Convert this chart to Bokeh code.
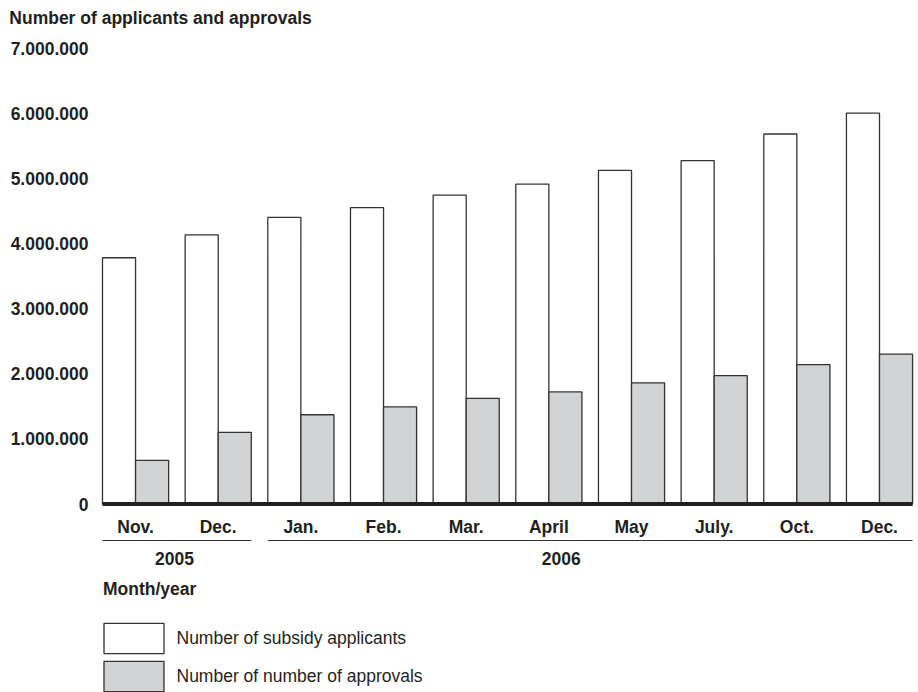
import numpy as np
from bokeh.plotting import figure
from bokeh.models import Range1d, FixedTicker, Legend, LegendItem, ColumnDataSource
from bokeh.transform import dodge
from bokeh.core.properties import value
from bokeh.embed import file_html
from bokeh.resources import INLINE

# ---------------- data ----------------
months = ["Nov.", "Dec.", "Jan.", "Feb.", "Mar.", "April", "May", "July.", "Oct.", "Dec."]
applicants = [3780000, 4130000, 4400000, 4550000, 4740000, 4910000, 5120000, 5270000, 5680000, 6000000]
approvals = [670000, 1100000, 1370000, 1490000, 1620000, 1720000, 1860000, 1970000, 2140000, 2300000]
years = ["2005", "2006"]
year_first = [0, 2]
year_last = [1, 9]
y_ticks = [0, 1000000, 2000000, 3000000, 4000000, 5000000, 6000000, 7000000]
y_tick_labels = ["0", "1.000.000", "2.000.000", "3.000.000", "4.000.000",
                 "5.000.000", "6.000.000", "7.000.000"]
series_names = ["Number of subsidy applicants", "Number of number of approvals"]
title_text = "Number of applicants and approvals"
xlabel_text = "Month/year"

# ---------------- layout constants ----------------
W, H = 918, 692
PLOT_LEFT_PX = 102            # left end of the baseline
PX_PER_X = 82.66
PX_PER_Y = 456 / 7e6
DU = 1 / PX_PER_Y
ZERO_PX = 503.5
x_left_edge = -0.4
x_start = x_left_edge - PLOT_LEFT_PX / PX_PER_X
x_end = x_start + W / PX_PER_X
y_top = ZERO_PX * DU
y_bot = -(H - ZERO_PX) * DU


def xpx(px):
    return x_start + px / PX_PER_X


FONT = "Liberation Sans"
FS = "17.5px"
TXT = "#231f20"
EDGE = "#333333"
GREY = "#d1d3d4"

p = figure(width=W, height=H, x_range=Range1d(x_start, x_end), y_range=Range1d(y_bot, y_top),
           output_backend="svg", toolbar_location=None,
           min_border_left=0, min_border_right=0, min_border_top=0, min_border_bottom=0)
p.outline_line_color = None
p.xgrid.visible = False
p.ygrid.visible = False
p.background_fill_color = "white"
p.border_fill_color = "white"

# y axis (labels only), anchored at the left end of the baseline
ya = p.yaxis[0]
ya.fixed_location = x_left_edge
ya.ticker = FixedTicker(ticks=y_ticks)
ya.major_label_overrides = {t: l for t, l in zip(y_ticks, y_tick_labels)}
ya.axis_line_color = None
ya.major_tick_line_color = None
ya.minor_tick_line_color = None
ya.major_tick_out = 0
ya.major_tick_in = 0
ya.major_label_standoff = 14
ya.major_label_text_font = FONT
ya.major_label_text_font_style = "bold"
ya.major_label_text_font_size = FS
ya.major_label_text_color = TXT

# x axis (month labels) at y = 0
xa = p.xaxis[0]
xa.fixed_location = 0
xa.ticker = FixedTicker(ticks=list(range(len(months))))
xa.major_label_overrides = {i: m for i, m in enumerate(months)}
xa.axis_line_color = None
xa.major_tick_line_color = None
xa.minor_tick_line_color = None
xa.major_tick_out = 0
xa.major_tick_in = 0
xa.major_label_standoff = 13
xa.major_label_text_font = FONT
xa.major_label_text_font_style = "bold"
xa.major_label_text_font_size = FS
xa.major_label_text_color = TXT

src = ColumnDataSource(dict(x=np.arange(len(months)), applicants=applicants, approvals=approvals))
r1 = p.vbar(x=dodge("x", -0.2), top="applicants", bottom=0, width=0.4, source=src,
            fill_color="white", line_color=EDGE, line_width=1.3)
r2 = p.vbar(x=dodge("x", 0.2), top="approvals", bottom=0, width=0.4, source=src,
            fill_color=GREY, line_color=EDGE, line_width=1.3)

# thick baseline
p.segment(x0=[x_left_edge], x1=[len(months) - 1 + 0.4], y0=[0], y1=[0],
          line_color=TXT, line_width=4)

# year group lines and labels
line_y = -36.5 * DU
p.segment(x0=[f - 0.4 for f in year_first], x1=[l + 0.4 for l in year_last],
          y0=[line_y] * len(years), y1=[line_y] * len(years),
          line_color=EDGE, line_width=1.2)
year_x = [0.47, 5.15]
p.text(x=year_x, y=[-54 * DU] * len(years), text=years, text_align="center",
       text_baseline="middle", text_font=value(FONT), text_font_style="bold",
       text_font_size=FS, text_color=TXT)

p.text(x=[xpx(102.5)], y=[-84.5 * DU], text=[xlabel_text], text_align="left",
       text_baseline="middle", text_font=value(FONT), text_font_style="bold",
       text_font_size=FS, text_color=TXT)

# title
p.text(x=[xpx(8.8)], y=[(ZERO_PX - 17) * DU], text=[title_text], text_align="left",
       text_baseline="middle", text_font=value(FONT), text_font_style="bold",
       text_font_size=FS, text_color=TXT)

legend = Legend(items=[LegendItem(label=series_names[0], renderers=[r1]),
                       LegendItem(label=series_names[1], renderers=[r2])],
                location=(95.5, -3.2), orientation="vertical",
                glyph_width=75, glyph_height=38, spacing=0, padding=0, margin=0,
                label_standoff=6, label_text_font=FONT, label_text_font_size=FS,
                label_text_color=TXT, border_line_color=None, background_fill_alpha=0)
p.add_layout(legend)

open("out.html", "w").write(file_html(p, INLINE))
